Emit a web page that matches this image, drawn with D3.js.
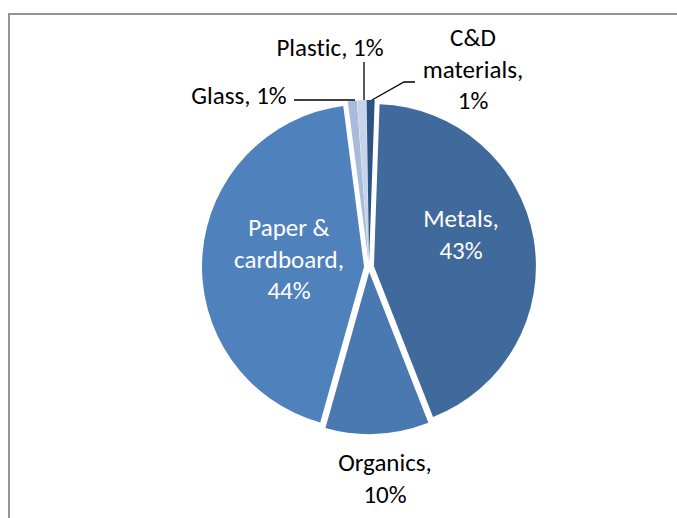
<!DOCTYPE html>
<html><head><meta charset="utf-8">
<script src="https://cdn.jsdelivr.net/npm/d3@7"></script>
<style>html,body{margin:0;padding:0;background:#fff;}svg{display:block;}text{font-variant-ligatures:none;font-feature-settings:"liga" 0;}</style>
</head><body>
<svg id="c" width="677" height="518"></svg>
<script>
// data (clockwise from 12 o'clock)
const categories = ["Metals", "Organics", "Paper & cardboard", "Glass", "Plastic", "C&D materials"];
const values = [43.5, 10.3, 43.6, 0.9, 0.9, 0.8];
const labelLines = [["Metals,", "43%"], ["Organics,", "10%"], ["Paper &", "cardboard,", "44%"], ["Glass, 1%"], ["Plastic, 1%"], ["C&D", "materials,", "1%"]];

const colors = ["#40699c", "#4a78b0", "#4f81bd", "#a8bbdb", "#c6d3e8", "#2d5384"];
const labelColors = ["#fff", "#000", "#fff", "#000", "#000", "#000"];
// label anchor (center of text block) and leader lines
const labelPos = [[461, 234], [385, 478], [289, 259], [239, 95], [330, 47], [473, 69]];
const leaders = [null, null, null, [[294, 100], [355, 100]], [[364, 62], [364, 100]], [[415, 82], [404, 82], [372, 100]]];

const svg = d3.select("#c");
svg.append("rect").attr("x", 9).attr("y", 14).attr("width", 700).attr("height", 600)
  .attr("fill", "#fff").attr("stroke", "#959595").attr("stroke-width", 2);

const cx = 369, cy = 267, R = 162, explode = 5;
const a0 = 2 * Math.PI / 180;
const pie = d3.pie().sort(null).startAngle(a0).endAngle(a0 + 2 * Math.PI);
const arcs = pie(values);
const arc = d3.arc().innerRadius(0).outerRadius(R);
const g = svg.append("g").attr("transform", `translate(${cx},${cy})`);
g.selectAll("path").data(arcs).join("path")
  .attr("d", arc)
  .attr("fill", (d, i) => colors[i])
  .attr("transform", d => {
    const a = (d.startAngle + d.endAngle) / 2;
    return `translate(${explode * Math.sin(a)},${-explode * Math.cos(a)})`;
  });

const line = d3.line();
leaders.forEach(l => {
  if (!l) return;
  svg.append("path").attr("d", line(l)).attr("fill", "none").attr("stroke", "#000").attr("stroke-width", 1.3);
});

const fs = 25, lh = 31.5;
labelLines.forEach((lines, i) => {
  const [x, y] = labelPos[i];
  const t = svg.append("text").attr("text-anchor", "middle")
    .attr("font-family", "Carlito, Lato, 'Open Sans', sans-serif")
    .attr("font-size", fs).attr("fill", labelColors[i]);
  const n = lines.length;
  lines.forEach((s, k) => {
    t.append("tspan").attr("x", x).attr("y", y + (k - (n - 1) / 2) * lh + fs * 0.35).text(s);
  });
});
</script>
</body></html>
